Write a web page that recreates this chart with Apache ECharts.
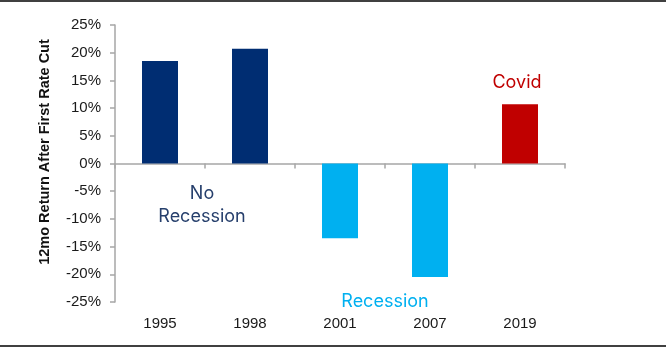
<!DOCTYPE html>
<html>
<head>
<meta charset="utf-8">
<script src="https://cdn.jsdelivr.net/npm/echarts@6/dist/echarts.min.js"></script>
<style>
  html, body { margin: 0; padding: 0; background: #fff; }
  #chart { width: 666px; height: 350px; }
</style>
</head>
<body>
<div id="chart"></div>
<script>
// years of the first rate cut
var years = ['1995', '1998', '2001', '2007', '2019'];
// 12mo return after first cut, in %
var noRecession = [18.5, 20.7, '-', '-', '-'];
var recession = ['-', '-', -13.5, -20.5, '-'];
var covid = ['-', '-', '-', '-', 10.7];
// y axis ticks
var yMin = -25, yMax = 25, yStep = 5;
var yTitle = '12mo Return After First Rate Cut';

var axisFont = 'Liberation Sans, Arial, sans-serif';
var gray = '#a6a6a6';

var myChart = echarts.init(document.getElementById('chart'), null, { renderer: 'canvas' });

var option = {
    animation: false,
    backgroundColor: '#fff',
    grid: { left: 115, right: 101, top: 25, bottom: 48 },
    xAxis: [
        {   // zero line with ticks
            type: 'category',
            data: years,
            axisLine: { onZero: true, lineStyle: { color: gray, width: 1.5 } },
            axisTick: { show: true, length: 5, lineStyle: { color: gray, width: 1.5 } },
            axisLabel: { show: false },
            splitLine: { show: false }
        },
        {   // labels at the bottom
            type: 'category',
            data: years,
            position: 'bottom',
            axisLine: { show: false, onZero: false },
            axisTick: { show: false },
            axisLabel: { margin: 14, color: '#1a1a1a', fontSize: 15, fontFamily: axisFont },
            splitLine: { show: false }
        }
    ],
    yAxis: {
        type: 'value',
        min: yMin,
        max: yMax,
        interval: yStep,
        axisLine: { show: true, lineStyle: { color: gray, width: 1.5 } },
        axisTick: { show: true, length: 5, lineStyle: { color: gray, width: 1.5 } },
        axisLabel: { formatter: '{value}%', margin: 14, color: '#1a1a1a', fontSize: 15, fontFamily: axisFont },
        splitLine: { show: false }
    },
    series: [
        { name: 'No Recession', type: 'bar', stack: 'r', barWidth: '40%', data: noRecession, itemStyle: { color: '#002d72' } },
        { name: 'Recession', type: 'bar', stack: 'r', barWidth: '40%', data: recession, itemStyle: { color: '#00b0f0' } },
        { name: 'Covid', type: 'bar', stack: 'r', barWidth: '40%', data: covid, itemStyle: { color: '#c00000' } }
    ],
    graphic: [
        { type: 'line', shape: { x1: 0, y1: 1, x2: 666, y2: 1 }, style: { stroke: '#000', lineWidth: 1.5 } },
        { type: 'line', shape: { x1: 0, y1: 346, x2: 666, y2: 346 }, style: { stroke: '#000', lineWidth: 1.5 } },
        //y轴标题
        { type: 'text', x: 45, y: 152, rotation: Math.PI / 2, style: { text: yTitle, fill: '#111', font: 'bold 14.5px Liberation Sans, Arial, sans-serif', align: 'center', verticalAlign: 'middle' } },
        { type: 'text', x: 202, y: 205, style: { text: 'No\nRecession', fill: '#263f6c', font: '18px Inter, sans-serif', align: 'center', verticalAlign: 'middle', lineHeight: 23 } },
        { type: 'text', x: 385, y: 302, style: { text: 'Recession', fill: '#00b0f0', font: '18px Inter, sans-serif', align: 'center', verticalAlign: 'middle' } },
        { type: 'text', x: 517, y: 83, style: { text: 'Covid', fill: '#c00000', font: '18px Inter, sans-serif', align: 'center', verticalAlign: 'middle' } }
    ]
};

myChart.setOption(option);
</script>
</body>
</html>
